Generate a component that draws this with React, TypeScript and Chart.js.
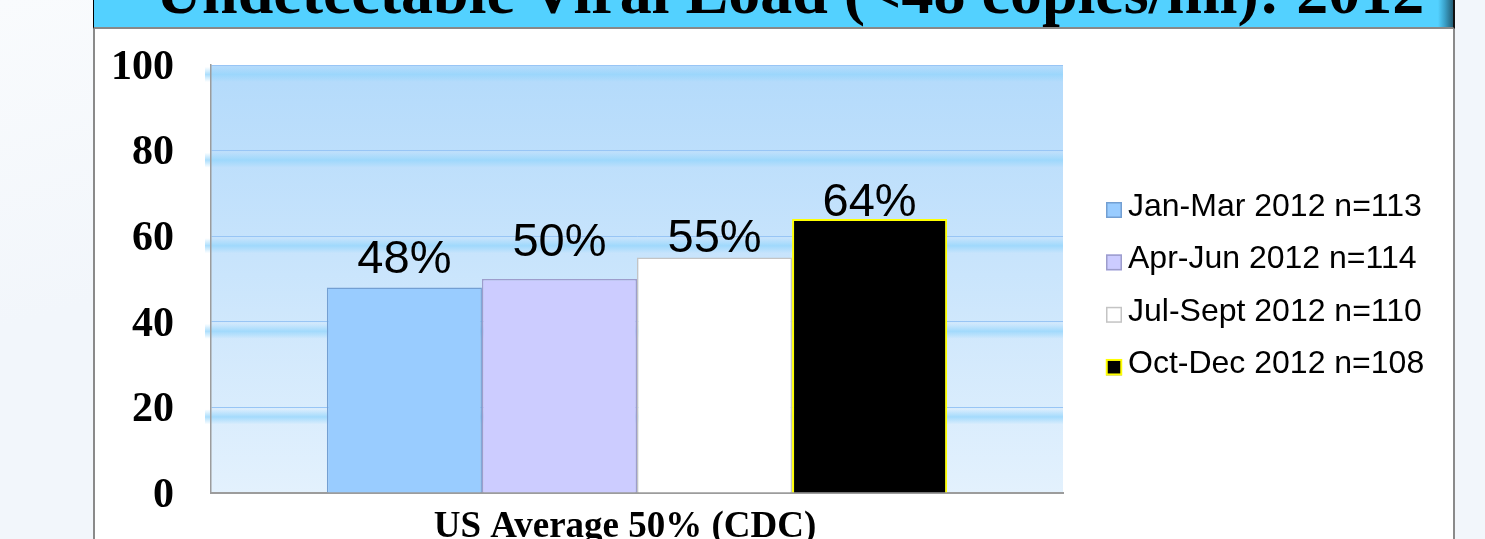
import { useEffect, useRef } from "react";
import { Chart, registerables } from "chart.js";

Chart.register(...registerables);

// Chart content
const categories = [""];
const seriesLabels = [
  "Jan-Mar 2012 n=113",
  "Apr-Jun 2012 n=114",
  "Jul-Sept 2012 n=110",
  "Oct-Dec 2012 n=108",
];
const seriesValues = [48, 50, 55, 64];
const yTicks = [0, 20, 40, 60, 80, 100];
const titleText = "Undetectable Viral Load (<48 copies/ml): 2012";
const axisTitle = "US Average 50% (CDC)";

// Styling
const fillColors = ["#99ccff", "#ccccff", "#ffffff", "#000000"];
const edgeColors = ["#739fd2", "#9d9dcc", "#c4c4c4", "#ffff00"];
const edgeWidths = [1.5, 1.5, 1.5, 2];
const labelGaps = [15, 23, 6, 3];

const SERIF = "'Liberation Serif', 'Times New Roman', serif";
const SANS = "'Liberation Sans', Arial, sans-serif";

// Light-blue plot backdrop with soft glow bands under each gridline
const plotBackdrop = {
  id: "plotBackdrop",
  beforeDraw(chart: any) {
    const { ctx, chartArea: a, scales } = chart;
    const y = scales.y;
    ctx.save();
    const g = ctx.createLinearGradient(0, a.top, 0, a.bottom);
    g.addColorStop(0, "#b3dafb");
    g.addColorStop(0.45, "#c8e4fc");
    g.addColorStop(1, "#e3f1fd");
    ctx.fillStyle = g;
    ctx.fillRect(a.left, a.top, a.right - a.left, a.bottom - a.top);
    ctx.beginPath();
    ctx.rect(a.left - 6, a.top, a.right - a.left + 6, a.bottom - a.top);
    ctx.clip();
    for (const v of yTicks) {
      if (v === 0) continue;
      const py = y.getPixelForValue(v);
      const band = ctx.createLinearGradient(0, py + 2, 0, py + 17);
      band.addColorStop(0, "rgba(150,214,252,0)");
      band.addColorStop(0.5, "rgba(150,214,252,0.8)");
      band.addColorStop(1, "rgba(150,214,252,0)");
      ctx.fillStyle = band;
      ctx.fillRect(a.left - 6, py + 2, a.right - a.left + 6, 15);
    }
    ctx.restore();
  },
};

// Percentage labels above each bar, and the caption under the axis
const valueLabels = {
  id: "valueLabels",
  afterDatasetsDraw(chart: any) {
    const { ctx, chartArea: a } = chart;
    ctx.save();
    ctx.font = `47px ${SANS}`;
    ctx.fillStyle = "#000";
    ctx.textAlign = "center";
    ctx.textBaseline = "alphabetic";
    chart.data.datasets.forEach((ds: any, i: number) => {
      const el = chart.getDatasetMeta(i).data[0];
      if (!el) return;
      ctx.fillText(`${ds.data[0]}%`, el.x, el.y - labelGaps[i]);
    });
    ctx.font = `bold 37px ${SERIF}`;
    ctx.fillText(axisTitle, (a.left + a.right) / 2 - 12, a.bottom + 44);
    ctx.restore();
  },
};

// Series key at the right of the plot
const seriesKey = {
  id: "seriesKey",
  afterDraw(chart: any) {
    const { ctx } = chart;
    const boxX = 1106;
    const textX = 1128;
    const firstBaseline = 216;
    const step = 52.4;
    ctx.save();
    ctx.font = `32px ${SANS}`;
    ctx.textAlign = "left";
    ctx.textBaseline = "alphabetic";
    chart.data.datasets.forEach((ds: any, i: number) => {
      const base = firstBaseline + i * step;
      const top = base - 14;
      ctx.fillStyle = ds.backgroundColor;
      ctx.fillRect(boxX, top, 16, 16);
      ctx.strokeStyle = ds.borderColor;
      ctx.lineWidth = i === 3 ? 2 : 1.5;
      ctx.strokeRect(boxX + 0.75, top + 0.75, 14.5, 14.5);
      ctx.fillStyle = "#000";
      ctx.fillText(ds.label, textX, base);
    });
    ctx.restore();
  },
};

function BarChart() {
  const ref = useRef<HTMLCanvasElement | null>(null);

  useEffect(() => {
    if (!ref.current) return;
    const chart = new Chart(ref.current, {
      type: "bar",
      data: {
        labels: categories,
        datasets: seriesLabels.map((label, i) => ({
          label,
          data: [seriesValues[i]],
          backgroundColor: fillColors[i],
          borderColor: edgeColors[i],
          borderWidth: edgeWidths[i],
          categoryPercentage: 0.728,
          barPercentage: 1,
        })),
      },
      options: {
        responsive: false,
        animation: false,
        devicePixelRatio: 1,
        layout: { padding: { left: 0, right: 422, top: 65, bottom: 0 } },
        plugins: {
          legend: { display: false },
          tooltip: { enabled: false },
        },
        scales: {
          x: {
            grid: { display: false, drawTicks: false },
            border: { display: true, color: "#9c9c9c", width: 2 },
            ticks: { display: false },
            title: { display: false },
            afterFit: (s: any) => {
              s.height = 77;
            },
          },
          y: {
            min: 0,
            max: 100,
            afterBuildTicks: (s: any) => {
              s.ticks = yTicks.map((v) => ({ value: v }));
            },
            grid: { color: "#98c5f5", lineWidth: 1, drawTicks: false },
            border: { display: true, color: "#9c9c9c", width: 1.5 },
            ticks: {
              padding: 37,
              labelOffset: 3,
              color: "#000",
              font: { family: SERIF, size: 42, weight: "bold" },
            },
            afterFit: (s: any) => {
              s.width = 211;
            },
          },
        },
      },
      plugins: [plotBackdrop, valueLabels, seriesKey],
    });
    return () => chart.destroy();
  }, []);

  return (
    <canvas
      ref={ref}
      width={1485}
      height={570}
      style={{ position: "absolute", left: 0, top: 0, width: 1485, height: 570 }}
    />
  );
}

export default function App() {
  return (
    <div
      style={{
        position: "absolute",
        left: 0,
        top: 0,
        width: 1485,
        height: 539,
        overflow: "hidden",
        background: "linear-gradient(165deg, #f9fbfd 0%, #f2f6fb 35%, #f2f6fb 100%)",
      }}
    >
      <div
        style={{
          position: "absolute",
          left: 93,
          top: 0,
          width: 1358,
          height: 620,
          background: "#ffffff",
          borderLeft: "2px solid #8a8a8a",
          borderRight: "2px solid #8a8a8a",
        }}
      />
      <div
        style={{
          position: "absolute",
          left: 93,
          top: 0,
          width: 1359,
          height: 27,
          borderLeft: "1px solid #000",
          borderRight: "2px solid #111",
          borderBottom: "2px solid #888",
          background:
            "linear-gradient(90deg, #53d1ff 0%, #53d1ff 98.9%, #3aa0c8 99.4%, #245d75 100%)",
        }}
      />
      <div
        style={{
          position: "absolute",
          left: 0,
          top: -40,
          width: 1580,
          height: 64,
          lineHeight: "64px",
          fontFamily: SERIF,
          fontWeight: "bold",
          fontSize: 64,
          color: "#000",
          textAlign: "center",
          whiteSpace: "nowrap",
        }}
      >
        {titleText}
      </div>
      <BarChart />
    </div>
  );
}
